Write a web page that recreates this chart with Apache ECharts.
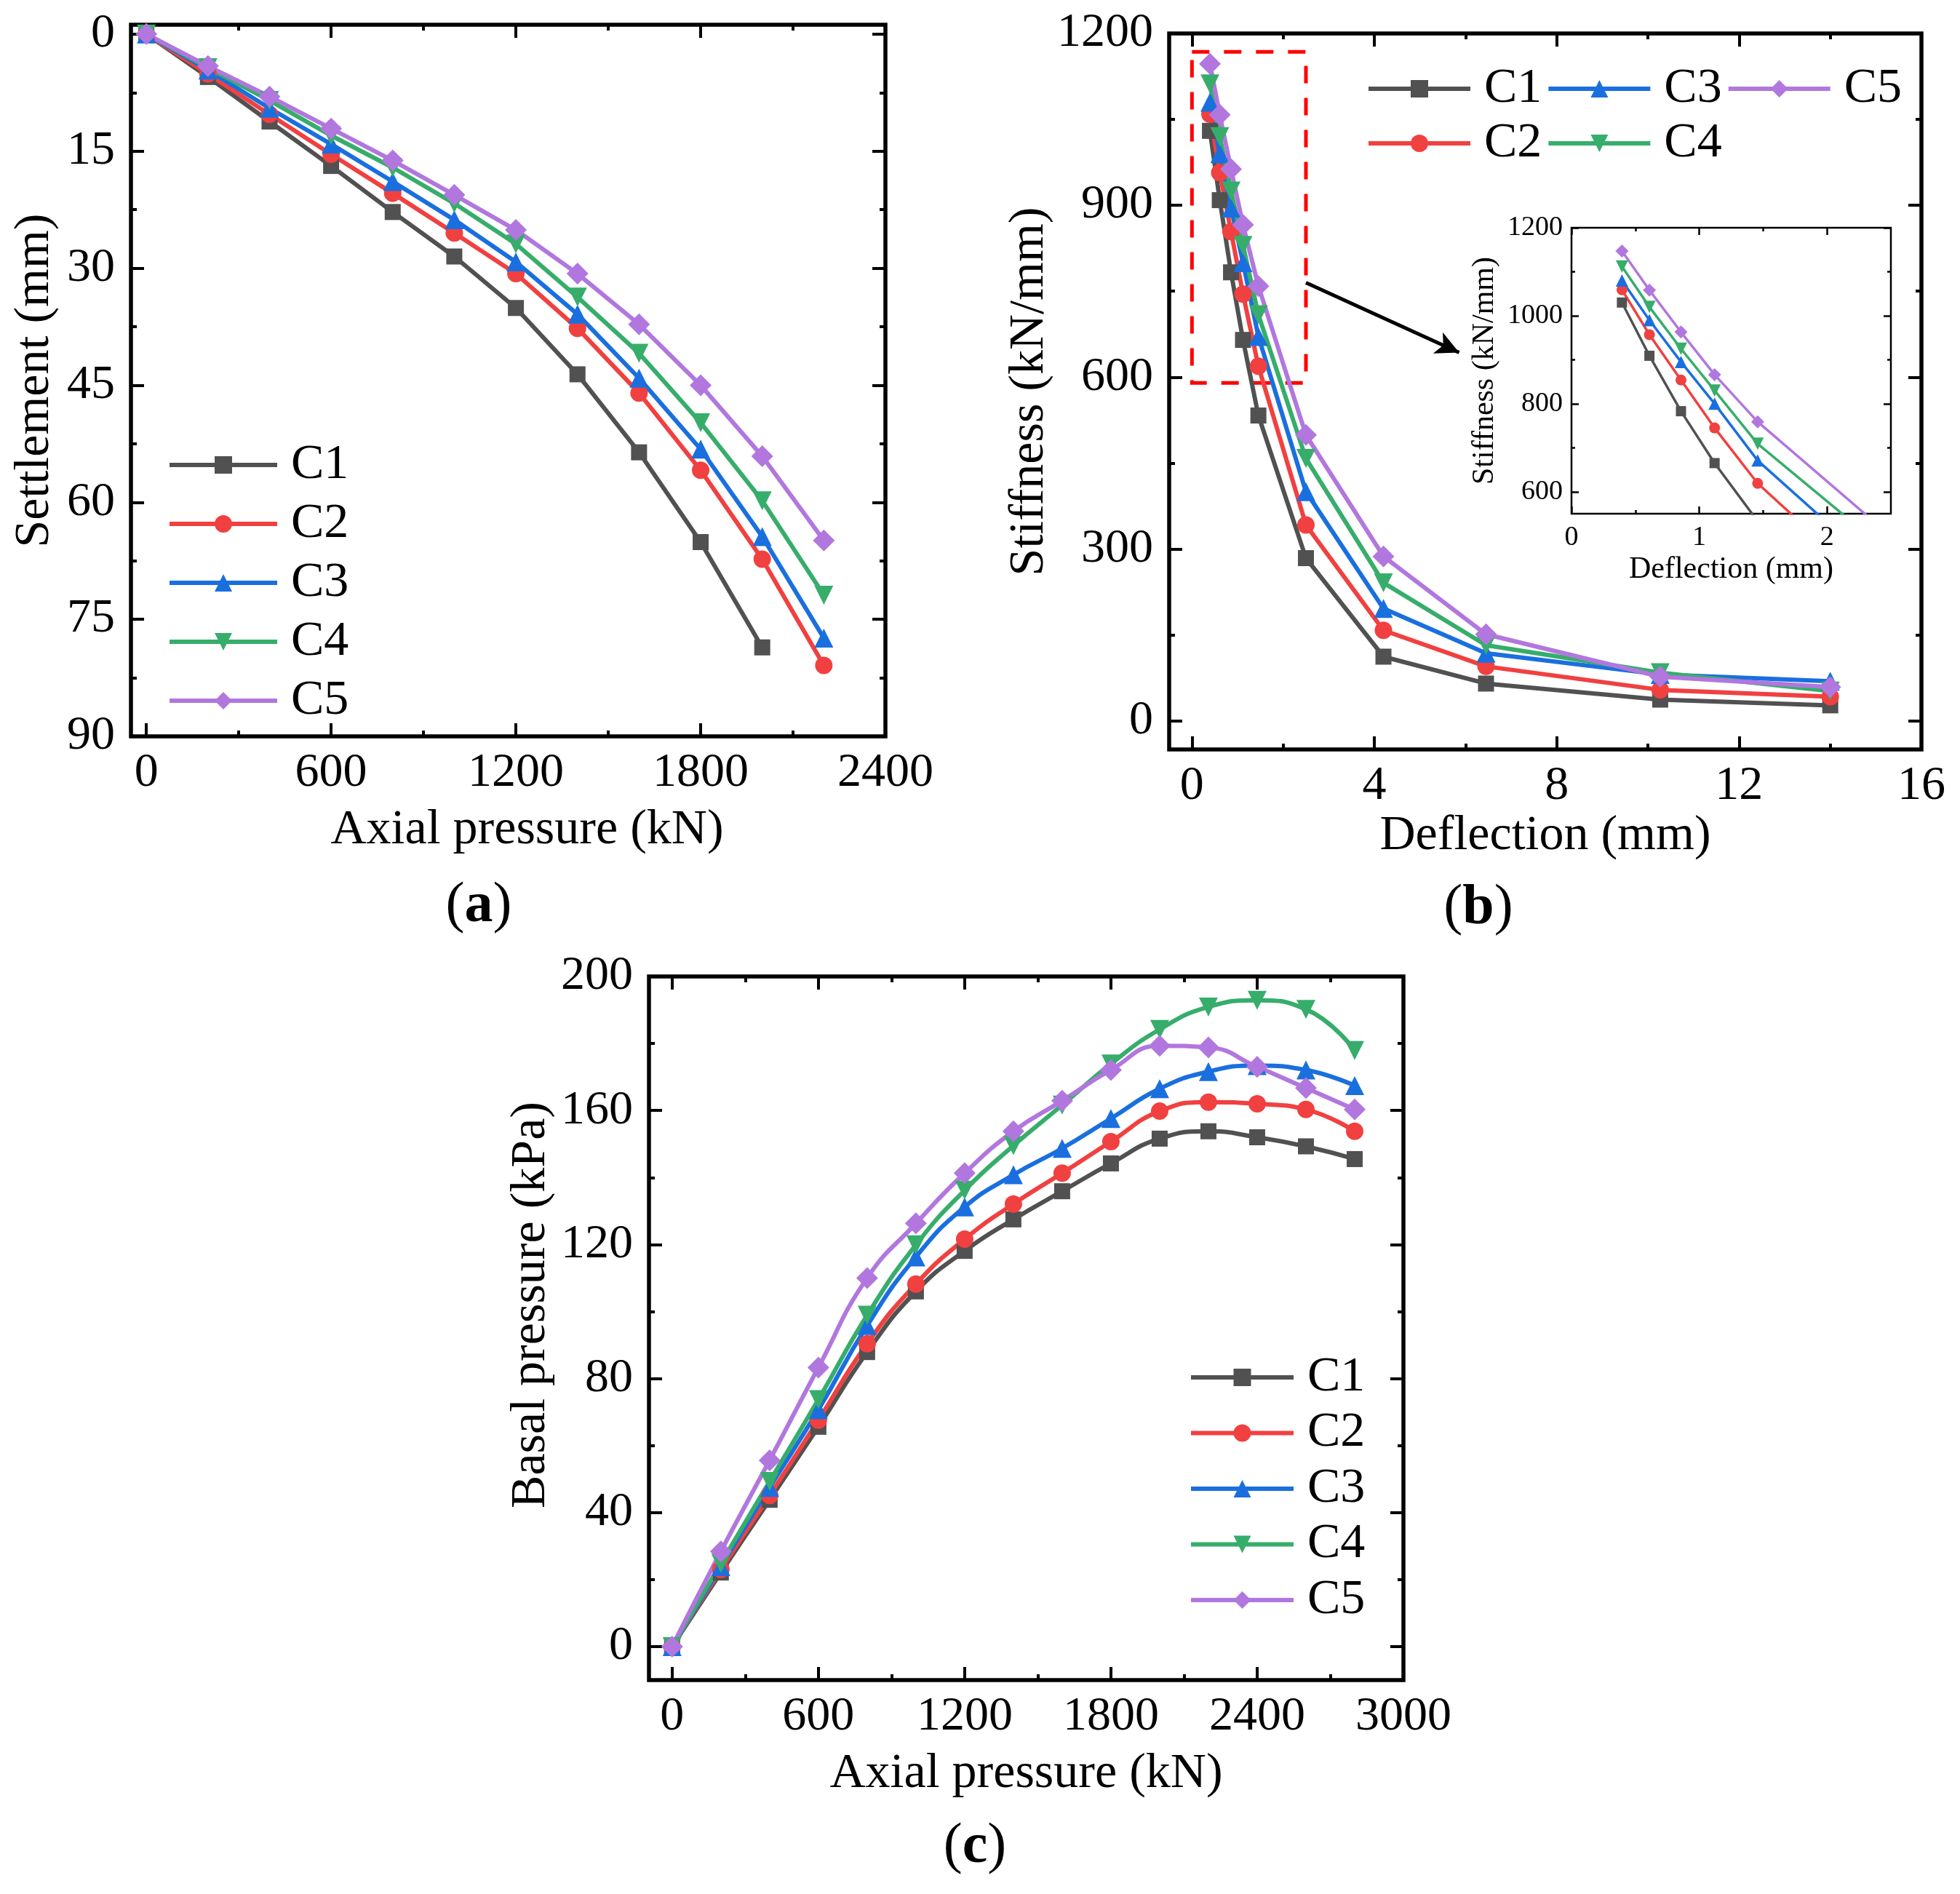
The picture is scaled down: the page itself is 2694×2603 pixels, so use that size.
<!DOCTYPE html>
<html>
<head>
<meta charset="utf-8">
<title>Settlement, stiffness and basal pressure</title>
<script src="https://cdn.jsdelivr.net/npm/echarts@6/dist/echarts.min.js"></script>
<style>
  html, body { margin: 0; padding: 0; background: #fff; }
  #chart { width: 2694px; height: 2603px; }
</style>
</head>
<body>
<div id="chart"></div>
<script>
const FONT = '"Liberation Serif", "Times New Roman", serif'

const seriesNames = ['C1', 'C2', 'C3', 'C4', 'C5']
const colors = ['#515151', '#f14040', '#1a6fdf', '#37ad6b', '#b177de']
const symbols = ['rect', 'circle', 'triangle', 'triangle', 'diamond']

// (a) settlement (mm) against axial pressure (kN)
const loadA = [0, 200, 400, 600, 800, 1000, 1200, 1400, 1600, 1800, 2000, 2200]
const settleC1 = [0, 5.5, 11.2, 16.9, 22.8, 28.5, 35.1, 43.6, 53.6, 65.1, 78.6]
const settleC2 = [0, 5.1, 10.3, 15.4, 20.4, 25.5, 30.7, 37.7, 46.0, 55.9, 67.3, 80.9]
const settleC3 = [0, 4.6, 9.5, 14.1, 18.9, 23.8, 29.2, 35.9, 44.1, 53.2, 64.4, 77.4]
const settleC4 = [0, 4.3, 8.5, 13.0, 17.1, 21.7, 26.9, 33.7, 40.9, 49.8, 59.8, 71.9]
const settleC5 = [0, 4.1, 8.0, 12.1, 16.2, 20.6, 25.1, 30.7, 37.2, 45.0, 54.1, 64.9]

// (b) stiffness (kN/mm) against deflection (mm)
const deflection = [0.395, 0.61, 0.857, 1.12, 1.457, 2.5, 4.2, 6.45, 10.27, 14.0]
const stiffC1 = [1030, 909, 783, 665, 533, 284, 112, 65, 37, 27]
const stiffC2 = [1059, 957, 854, 745, 619, 342, 158, 95, 54, 42]
const stiffC3 = [1080, 990, 895, 800, 671, 400, 196, 118, 81, 69]
const stiffC4 = [1112, 1020, 925, 830, 709, 458, 241, 132, 84, 52]
const stiffC5 = [1147, 1058, 963, 866, 759, 499, 287, 151, 77, 59]

// (c) basal pressure (kPa) against axial pressure (kN)
const loadC = [0, 200, 400, 600, 800, 1000, 1200, 1400, 1600, 1800, 2000, 2200, 2400, 2600, 2800]
const basalC1 = [0, 22.1, 43.8, 65.6, 87.9, 106.0, 118.1, 127.5, 135.9, 144.2, 151.6, 153.8, 152.0, 149.3, 145.5]
const basalC2 = [0, 23.0, 45.1, 67.6, 90.4, 108.2, 121.6, 132.1, 141.3, 150.7, 159.8, 162.5, 162.0, 160.3, 153.8]
const basalC3 = [0, 23.9, 47.5, 70.7, 95.8, 116.3, 131.2, 140.8, 148.7, 157.6, 166.5, 171.6, 173.4, 172.1, 167.4]
const basalC4 = [0, 24.8, 49.3, 73.7, 98.9, 119.9, 136.2, 149.5, 161.6, 173.9, 184.2, 190.9, 192.9, 190.2, 177.9]
const basalC5 = [0, 28.4, 55.6, 83.3, 110.0, 126.3, 141.3, 153.8, 162.9, 172.1, 179.3, 178.8, 173.0, 166.7, 160.3]

// tick values
const ticksLoadA = [0, 600, 1200, 1800, 2400]
const minorLoadA = [300, 900, 1500, 2100]
const ticksSettle = [0, 15, 30, 45, 60, 75, 90]
const minorSettle = [7.5, 22.5, 37.5, 52.5, 67.5, 82.5]
const ticksDefl = [0, 4, 8, 12, 16]
const minorDefl = [2, 6, 10, 14]
const ticksStiff = [0, 300, 600, 900, 1200]
const minorStiff = [150, 450, 750, 1050]
const ticksLoadC = [0, 600, 1200, 1800, 2400, 3000]
const minorLoadC = [300, 900, 1500, 2100, 2700]
const ticksBasal = [0, 40, 80, 120, 160, 200]
const minorBasal = [20, 60, 100, 140, 180]
const ticksInsetX = [0, 1, 2]
const minorInsetX = [0.5, 1.5]
const ticksInsetY = [600, 800, 1000, 1200]
const minorInsetY = [700, 900, 1100]

// zoom box and arrow in (b), data coordinates
const zoomBox = [0, 1168, 2.5, 590]
const arrowFrom = [2.5, 765]
const arrowTo = [5.86, 643]

const node = document.getElementById('chart')
const myChart = echarts.init(node)

// four axes per side pair: labelled major, minor, opposite major, opposite minor
function axesFor(dim, grid, o) {
	const sides = dim === 'x' ? ['bottom', 'top'] : ['left', 'right']
	const list = []
	sides.forEach((side, s) => {
		[o.majors, o.minors].forEach((vals, m) => {
			const ax = {
				type: 'value',
				gridIndex: grid,
				position: side,
				min: o.min,
				max: o.max,
				inverse: !!o.inverse,
				splitLine: { show: false },
				axisLine: { show: false, onZero: false },
				axisTick: {
					show: true,
					inside: true,
					customValues: vals,
					length: m ? o.minorLen : o.majorLen,
					lineStyle: { color: '#000', width: o.tickWidth }
				},
				axisLabel: { show: false }
			}
			if (s === 0 && m === 0) {
				ax.axisLabel = {
					show: true,
					customValues: o.majors,
					formatter: v => String(v),
					margin: o.labelMargin,
					fontSize: o.labelSize,
					fontFamily: FONT,
					color: '#000'
				}
				ax.name = o.name
				ax.nameLocation = 'middle'
				ax.nameGap = o.nameGap
				ax.nameTextStyle = {
					fontSize: o.nameSize,
					fontFamily: FONT,
					color: '#000',
					padding: o.namePad || 0
				}
			}
			list.push(ax)
		})
	})
	return list
}

const mainAxis = { majorLen: 18, minorLen: 8, tickWidth: 4, labelSize: 66, nameSize: 68 }
const insetAxis = { majorLen: 10, minorLen: 5, tickWidth: 2.5, labelSize: 38, nameSize: 42 }

const xAxes = [].concat(
	axesFor('x', 0, Object.assign({}, mainAxis, { min: -50, max: 2400, majors: ticksLoadA, minors: minorLoadA, name: 'Axial pressure (kN)', nameGap: 95, labelMargin: 18, namePad: [0, 0, 0, 52] })),
	axesFor('x', 1, Object.assign({}, mainAxis, { min: -0.5, max: 16, majors: ticksDefl, minors: minorDefl, name: 'Deflection (mm)', nameGap: 67, labelMargin: 18 })),
	axesFor('x', 2, Object.assign({}, mainAxis, { min: -95, max: 3000, majors: ticksLoadC, minors: minorLoadC, name: 'Axial pressure (kN)', nameGap: 95, labelMargin: 18 })),
	axesFor('x', 3, Object.assign({}, insetAxis, { min: 0, max: 2.5, majors: ticksInsetX, minors: minorInsetX, name: 'Deflection (mm)', nameGap: 56, labelMargin: 14 }))
)

const yAxes = [].concat(
	axesFor('y', 0, Object.assign({}, mainAxis, { min: -1.2, max: 90, inverse: true, majors: ticksSettle, minors: minorSettle, name: 'Settlement (mm)', nameGap: 98, labelMargin: 22 })),
	axesFor('y', 1, Object.assign({}, mainAxis, { min: -50, max: 1200, majors: ticksStiff, minors: minorStiff, name: 'Stiffness (kN/mm)', nameGap: 142, labelMargin: 22 })),
	axesFor('y', 2, Object.assign({}, mainAxis, { min: -10, max: 200, majors: ticksBasal, minors: minorBasal, name: 'Basal pressure (kPa)', nameGap: 128, labelMargin: 22, namePad: [0, 0, 0, 64] })),
	axesFor('y', 3, Object.assign({}, insetAxis, { min: 550, max: 1200, majors: ticksInsetY, minors: minorInsetY, name: 'Stiffness (kN/mm)', nameGap: 98, labelMargin: 12 }))
)

const mainSizes = [22, 24, 26, 26, 30]
const insetSizes = [14, 15, 17, 17, 18]

function lineSeries(i, grid, xs, ys, extra) {
	return Object.assign({
		name: seriesNames[i],
		type: 'line',
		xAxisIndex: grid * 4,
		yAxisIndex: grid * 4,
		data: ys.map((v, k) => [xs[k], v]),
		symbol: symbols[i],
		symbolRotate: i === 3 ? 180 : 0,
		symbolSize: mainSizes[i],
		showAllSymbol: true,
		lineStyle: { color: colors[i], width: 6 },
		itemStyle: { color: colors[i] },
		emphasis: { disabled: true }
	}, extra || {})
}

const settle = [settleC1, settleC2, settleC3, settleC4, settleC5]
const stiff = [stiffC1, stiffC2, stiffC3, stiffC4, stiffC5]
const basal = [basalC1, basalC2, basalC3, basalC4, basalC5]

const series = []
settle.forEach((ys, i) => series.push(lineSeries(i, 0, loadA, ys)))
stiff.forEach((ys, i) => {
	const extra = {}
	if (i === 0) {
		extra.markArea = {
			silent: true,
			label: { show: false },
			itemStyle: { color: 'rgba(0,0,0,0)', borderColor: '#ff0000', borderWidth: 5, borderType: [24, 20] },
			data: [[{ coord: [zoomBox[0], zoomBox[1]] }, { coord: [zoomBox[2], zoomBox[3]] }]]
		}
		extra.markLine = {
			silent: true,
			symbol: ['none', 'arrow'],
			symbolSize: [24, 32],
			label: { show: false },
			lineStyle: { color: '#000', width: 5, type: 'solid' },
			data: [[{ coord: arrowFrom }, { coord: arrowTo }]]
		}
	}
	series.push(lineSeries(i, 1, deflection, ys, extra))
})
basal.forEach((ys, i) => series.push(lineSeries(i, 2, loadC, ys, { smooth: 0.5 })))
stiff.forEach((ys, i) => series.push(lineSeries(i, 3, deflection, ys, {
	symbolSize: insetSizes[i],
	lineStyle: { color: colors[i], width: 3.5 }
})))

const legendText = { fontSize: 68, fontFamily: FONT, color: '#000', lineHeight: 72, padding: [0, 0, 0, 14] }
const legendBase = { itemHeight: 30, selectedMode: false, textStyle: legendText, lineStyle: { width: 6 } }

const panelRich = {
	p: { fontSize: 78, fontFamily: FONT, color: '#000' },
	b: { fontSize: 78, fontFamily: FONT, fontWeight: 'bold', color: '#000' }
}

const option = {
	animation: false,
	backgroundColor: '#fff',
	grid: [
		{ left: 180, top: 34, width: 1037, height: 978, show: true, borderColor: '#000', borderWidth: 5.5, outerBoundsMode: 'none' },
		{ left: 1607, top: 46, width: 1034, height: 984, show: true, borderColor: '#000', borderWidth: 5.5, outerBoundsMode: 'none' },
		{ left: 892, top: 1342, width: 1037, height: 967, show: true, borderColor: '#000', borderWidth: 5.5, outerBoundsMode: 'none' },
		{ left: 2160, top: 313, width: 439, height: 393, show: true, borderColor: '#000', borderWidth: 2.5, backgroundColor: '#fff', outerBoundsMode: 'none' }
	],
	legend: [
		Object.assign({}, legendBase, { data: seriesNames, orient: 'vertical', left: 225, top: 598, itemWidth: 148, itemGap: 9 }),
		Object.assign({}, legendBase, { data: ['C1', 'C3', 'C5'], orient: 'horizontal', left: 1873, top: 81, itemWidth: 140, itemGap: 6 }),
		Object.assign({}, legendBase, { data: ['C2', 'C4'], orient: 'horizontal', left: 1873, top: 156, itemWidth: 140, itemGap: 6 }),
		Object.assign({}, legendBase, { data: seriesNames, orient: 'vertical', left: 1629, top: 1852, itemWidth: 141, itemGap: 4.5 })
	],
	xAxis: xAxes,
	yAxis: yAxes,
	graphic: [
		{ type: 'text', x: 658, y: 1246, style: { text: '{p|(}{b|a}{p|)}', align: 'center', verticalAlign: 'middle', rich: panelRich } },
		{ type: 'text', x: 2032, y: 1249, style: { text: '{p|(}{b|b}{p|)}', align: 'center', verticalAlign: 'middle', rich: panelRich } },
		{ type: 'text', x: 1340, y: 2539, style: { text: '{p|(}{b|c}{p|)}', align: 'center', verticalAlign: 'middle', rich: panelRich } }
	],
	series: series
}

myChart.setOption(option)

window.addEventListener('resize', () => {
	myChart.resize()
})
</script>
</body>
</html>
